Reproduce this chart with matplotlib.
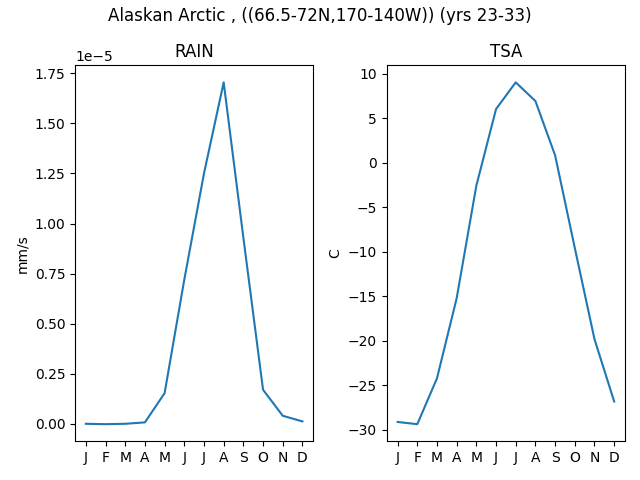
import matplotlib
matplotlib.use("Agg")
import matplotlib.pyplot as plt

months = ["J", "F", "M", "A", "M", "J", "J", "A", "S", "O", "N", "D"]
rain = [0.0, -0.002e-5, 0.0, 0.007e-5, 0.153e-5, 0.72e-5, 1.25e-5, 1.705e-5, 0.93e-5, 0.17e-5, 0.04e-5, 0.012e-5]
tsa = [-29.1, -29.35, -24.2, -15.2, -2.55, 6.05, 9.05, 6.95, 0.85, -9.55, -19.8, -26.8]

fig, (ax1, ax2) = plt.subplots(1, 2, figsize=(6.4, 4.8), dpi=100)
x = list(range(12))
ax1.plot(x, rain)
ax1.set_title("RAIN")
ax1.set_ylabel("mm/s")
ax1.set_xticks(x)
ax1.set_xticklabels(months)
ax2.plot(x, tsa)
ax2.set_title("TSA")
ax2.set_ylabel("C")
ax2.set_xticks(x)
ax2.set_xticklabels(months)
fig.suptitle("Alaskan Arctic , ((66.5-72N,170-140W)) (yrs 23-33)", y=0.985)
fig.tight_layout()
fig.subplots_adjust(top=0.864)
fig.savefig("out.png")
